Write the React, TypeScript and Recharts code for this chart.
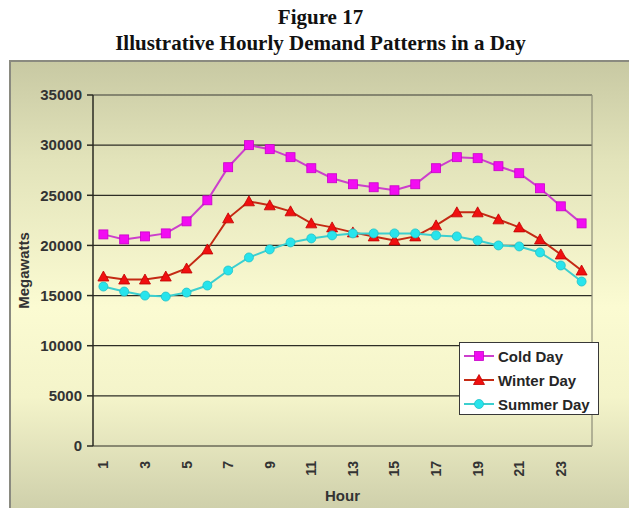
import { LineChart, Line, XAxis, YAxis, CartesianGrid, Legend, Label, ReferenceLine } from 'recharts';

const hours = [1, 2, 3, 4, 5, 6, 7, 8, 9, 10, 11, 12, 13, 14, 15, 16, 17, 18, 19, 20, 21, 22, 23, 24];
const coldDay = [21100, 20600, 20900, 21200, 22400, 24500, 27800, 30000, 29600, 28800, 27700, 26700, 26100, 25800, 25500, 26100, 27700, 28800, 28700, 27900, 27200, 25700, 23900, 22200];
const winterDay = [16900, 16600, 16600, 16900, 17700, 19600, 22700, 24400, 24000, 23400, 22200, 21800, 21300, 20900, 20500, 20900, 22000, 23300, 23300, 22600, 21800, 20600, 19100, 17500];
const summerDay = [15900, 15400, 15000, 14900, 15300, 16000, 17500, 18800, 19600, 20300, 20700, 21000, 21200, 21200, 21200, 21200, 21000, 20900, 20500, 20000, 19900, 19300, 18000, 16400];
const hourLabels = [1, 3, 5, 7, 9, 11, 13, 15, 17, 19, 21, 23];
const hourEdges = [...hours.map((h) => h - 0.5), 24.5];
const mwTicks = [0, 5000, 10000, 15000, 20000, 25000, 30000, 35000];

const data = hours.map((h, i) => ({
  hour: h,
  cold: coldDay[i],
  winter: winterDay[i],
  summer: summerDay[i],
}));

const series = [
  { key: 'cold', name: 'Cold Day', line: '#CC3FCC', fill: '#F20CF2', edge: '#C800C8', marker: 'square' },
  { key: 'winter', name: 'Winter Day', line: '#C42A14', fill: '#F01010', edge: '#C00000', marker: 'triangle' },
  { key: 'summer', name: 'Summer Day', line: '#3CCFCF', fill: '#28E4EC', edge: '#20C0C8', marker: 'circle' },
];

const font = 'Arial, "Liberation Sans", sans-serif';

function Marker({ cx, cy, kind, fill, edge }: any) {
  if (cx == null || cy == null) return null;
  if (kind === 'square') {
    return <rect x={cx - 4.5} y={cy - 4.5} width={9} height={9} fill={fill} stroke={edge} strokeWidth={0.8} />;
  }
  if (kind === 'triangle') {
    return (
      <polygon
        points={`${cx},${cy - 5.5} ${cx + 5.5},${cy + 4.5} ${cx - 5.5},${cy + 4.5}`}
        fill={fill}
        stroke={edge}
        strokeWidth={0.8}
      />
    );
  }
  return <circle cx={cx} cy={cy} r={4.5} fill={fill} stroke={edge} strokeWidth={0.8} />;
}

function HourTick({ x, y, payload }: any) {
  return (
    <text
      x={x}
      y={y}
      transform={`rotate(-90, ${x}, ${y})`}
      textAnchor="end"
      dominantBaseline="central"
      fill="#333"
      fontSize={14}
      fontWeight="bold"
      fontFamily={font}
    >
      {payload.value}
    </text>
  );
}

// keep Excel's series order rather than the legend's alphabetical sort
function LegendBox({ payload }: any) {
  const entries = series
    .map((s) => ({ s, entry: (payload || []).find((p: any) => p.dataKey === s.key) }))
    .filter((d) => d.entry);
  return (
    <div
      style={{
        width: 140,
        height: 73,
        boxSizing: 'border-box',
        background: '#fff',
        border: '1.5px solid #383838',
        paddingTop: 1,
      }}
    >
      {entries.map(({ s, entry }: any) => (
        <div key={s.key} style={{ display: 'flex', alignItems: 'center', height: 24 }}>
          <svg width={38} height={24} style={{ display: 'block' }}>
            <line x1={4} y1={12} x2={34} y2={12} stroke={s.line} strokeWidth={2} />
            <Marker cx={19} cy={12} kind={s.marker} fill={s.fill} edge={s.edge} />
          </svg>
          <span style={{ fontFamily: font, fontWeight: 'bold', fontSize: 15, color: '#262626', whiteSpace: 'nowrap' }}>
            {entry.value}
          </span>
        </div>
      ))}
    </div>
  );
}

export default function App() {
  return (
    <div style={{ position: 'relative', width: 629, height: 508, overflow: 'hidden' }}>
      <style>{'html,body{margin:0;padding:0;overflow:hidden;background:#fff}'}</style>
      <div
        style={{
          position: 'absolute',
          top: 4,
          left: 12,
          width: 617,
          textAlign: 'center',
          fontFamily: '"Liberation Serif", "Times New Roman", serif',
          fontWeight: 'bold',
          fontSize: 21,
          lineHeight: '26px',
          color: '#111',
        }}
      >
        <div>Figure 17</div>
        <div>Illustrative Hourly Demand Patterns in a Day</div>
      </div>
      <div
        style={{
          position: 'absolute',
          top: 60,
          left: 9,
          width: 620,
          height: 448,
          boxSizing: 'border-box',
          borderTop: '2px solid #8a8a80',
          borderLeft: '2px solid #8a8a80',
          background: 'linear-gradient(180deg, #C8C9A3 0%, #E2E3BA 22%, #FBFBD2 55%, #F4F4CA 75%, #CFD0AB 100%)',
        }}
      >
        <LineChart width={618} height={446} data={data} margin={{ top: 33, right: 37, bottom: 7, left: 10 }}>
          <CartesianGrid vertical={false} stroke="#2e2e26" strokeWidth={1.2} />
          <XAxis
            xAxisId="edges"
            type="number"
            dataKey="hour"
            domain={[0.5, 24.5]}
            ticks={hourEdges}
            interval={0}
            height={0}
            tick={false}
            tickSize={6}
            axisLine={{ stroke: '#2a2a22', strokeWidth: 1.5 }}
            tickLine={{ stroke: '#2a2a22', strokeWidth: 1.5 }}
            allowDataOverflow
          />
          <XAxis
            type="number"
            dataKey="hour"
            domain={[0.5, 24.5]}
            ticks={hourLabels}
            interval={0}
            height={55}
            axisLine={false}
            tickLine={false}
            tickMargin={9}
            tick={<HourTick />}
            allowDataOverflow
          >
            <Label
              value="Hour"
              position="insideBottom"
              offset={0}
              style={{ fontFamily: font, fontWeight: 'bold', fontSize: 15, fill: '#333' }}
            />
          </XAxis>
          <YAxis
            type="number"
            domain={[0, 35000]}
            ticks={mwTicks}
            interval={0}
            width={72}
            tickSize={6}
            tickMargin={5}
            axisLine={{ stroke: '#2a2a22', strokeWidth: 1.5 }}
            tickLine={{ stroke: '#2a2a22', strokeWidth: 1.5 }}
            tick={{ fontFamily: font, fontWeight: 'bold', fontSize: 15, fill: '#333' }}
          >
            <Label
              content={({ viewBox }: any) => {
                const cx = viewBox.x + 2;
                const cy = viewBox.y + viewBox.height / 2;
                return (
                  <text
                    x={cx}
                    y={cy}
                    transform={`rotate(-90, ${cx}, ${cy})`}
                    textAnchor="middle"
                    dominantBaseline="central"
                    fontFamily={font}
                    fontWeight="bold"
                    fontSize={15}
                    fill="#333"
                  >
                    Megawatts
                  </text>
                );
              }}
            />
          </YAxis>
          <ReferenceLine y={35000} stroke="#8c8c78" strokeWidth={1.2} />
          <ReferenceLine x={24.5} stroke="#8c8c78" strokeWidth={1.2} />
          {series.map((s) => (
            <Line
              key={s.key}
              type="linear"
              dataKey={s.key}
              name={s.name}
              stroke={s.line}
              strokeWidth={2}
              dot={(p: any) => <Marker key={`${s.key}-${p.index}`} cx={p.cx} cy={p.cy} kind={s.marker} fill={s.fill} edge={s.edge} />}
              activeDot={false}
              isAnimationActive={false}
            />
          ))}
          <Legend
            layout="vertical"
            align="center"
            verticalAlign="middle"
            content={<LegendBox />}
            wrapperStyle={{ left: 448, top: 280, width: 140, height: 73 }}
          />
        </LineChart>
      </div>
    </div>
  );
}
